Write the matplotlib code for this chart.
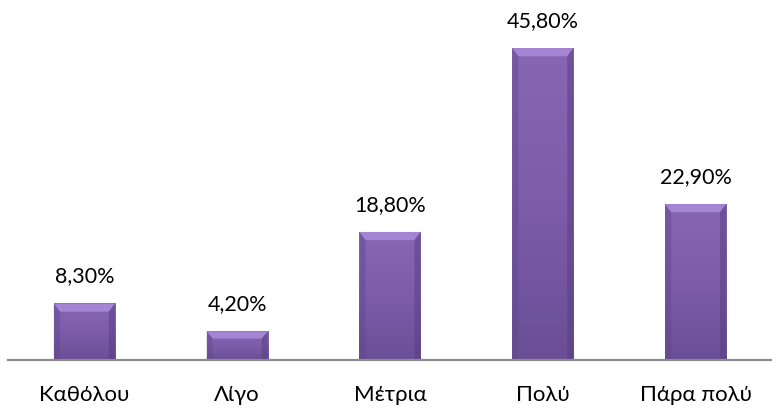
import matplotlib
matplotlib.use("Agg")
import matplotlib.pyplot as plt
import numpy as np
from matplotlib.patches import Polygon
from matplotlib.colors import LinearSegmentedColormap

categories = ["Καθόλου", "Λίγο", "Μέτρια", "Πολύ", "Πάρα πολύ"]
values = [8.3, 4.2, 18.8, 45.8, 22.9]
labels = ["8,30%", "4,20%", "18,80%", "45,80%", "22,90%"]

plt.rcParams['font.family'] = ['Lato', 'Noto Sans', 'DejaVu Sans']

fig = plt.figure(figsize=(7.72, 4.09), dpi=100)
ax = fig.add_axes([8 / 772, 49 / 409, 764 / 772, (360 - 19.5) / 409])

x = np.arange(len(categories))
width = 0.40
bars = ax.bar(x, values, width=width, color="#7858a4", edgecolor="none", zorder=2)

ax.set_xlim(-0.5, len(categories) - 0.5)
ax.set_ylim(0, 50)

# vertical shading inside each bar: lighter at the top, darker near the base
grad = np.linspace(0, 1, 256).reshape(-1, 1)
cmap = LinearSegmentedColormap.from_list("bar", ["#6a4e96", "#7c5cab", "#8666b5"])
for b in bars:
    x0, w, h = b.get_x(), b.get_width(), b.get_height()
    im = ax.imshow(grad, extent=[x0, x0 + w, 0, h], origin="lower", cmap=cmap,
                   aspect="auto", zorder=3)
    im.set_clip_path(b)
    sw = w * 0.1
    bh = min(1.2, h * 0.25)
    # bevelled top edge
    ax.add_patch(Polygon([[x0, h], [x0 + w, h], [x0 + w - sw, h - bh], [x0 + sw, h - bh]],
                         closed=True, facecolor="#a385d4", edgecolor="none", zorder=4))
    # darker side bevels
    ax.add_patch(Polygon([[x0, h], [x0 + sw, h - bh], [x0 + sw, 0], [x0, 0]],
                         closed=True, facecolor="#5e4587", alpha=0.4, edgecolor="none", zorder=4))
    ax.add_patch(Polygon([[x0 + w, h], [x0 + w - sw, h - bh], [x0 + w - sw, 0], [x0 + w, 0]],
                         closed=True, facecolor="#533c78", alpha=0.45, edgecolor="none", zorder=4))

for xi, v, lab in zip(x, values, labels):
    ax.text(xi, v + 2.5, lab, ha="center", va="bottom", fontsize=15.5, color="#000000")

for s in ["top", "right", "left"]:
    ax.spines[s].set_visible(False)
ax.spines["bottom"].set_color("#8c8c8c")
ax.spines["bottom"].set_linewidth(1.6)
ax.spines["bottom"].set_zorder(5)

ax.set_yticks([])
ax.set_xticks(x)
ax.set_xticklabels(categories, fontsize=16)
ax.tick_params(axis="x", length=0, pad=18)

fig.savefig("out.png", dpi=100)
